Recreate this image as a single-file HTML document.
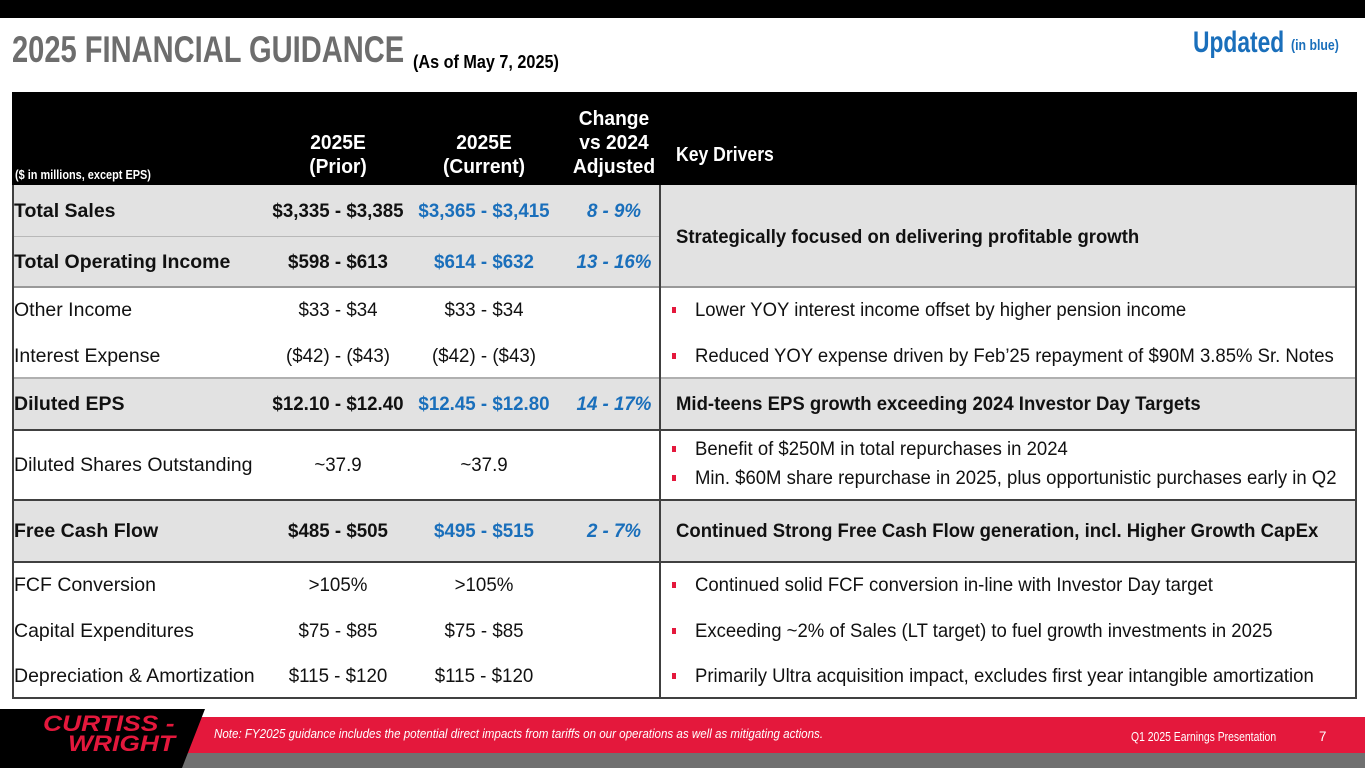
<!DOCTYPE html>
<html><head><meta charset="utf-8"><style>
*{margin:0;padding:0;box-sizing:border-box}
body{width:1365px;height:768px;position:relative;overflow:hidden;background:#fff;font-family:"Liberation Sans",Arial,sans-serif}
.a{position:absolute}
.t{position:absolute;white-space:nowrap;line-height:20px;font-size:19.5px;color:#111;transform-origin:left center;transform:scaleX(.95)}
.lb{transform:scaleX(1.0)}
.c{transform-origin:center center;transform:translateX(-50%) scaleX(.96)}
.b{font-weight:bold}
.bl{color:#1a6fbb}
.i{font-style:italic}
.w{color:#fff;font-weight:bold;text-align:center;line-height:24px;font-size:20px}
.bul{position:absolute;width:4px;height:6px;background:#e4183c}
.hl{position:absolute;left:12px;width:1345px;background:#404040}
</style></head><body>
<div class="a" style="left:0;top:0;width:1365px;height:18px;background:#000"></div>
<div class="t b" style="left:12px;top:30px;font-size:37px;line-height:40px;color:#6d6d6d;transform:scaleX(.786)">2025 FINANCIAL GUIDANCE</div>
<div class="t b" style="left:413px;top:52px;font-size:18px;color:#000;transform:scaleX(.9)">(As of May 7, 2025)</div>
<div class="t b bl" style="left:1193px;top:26px;font-size:30px;line-height:34px;transform:scaleX(.76)">Updated</div>
<div class="t b bl" style="left:1291px;top:36px;font-size:15px;transform:scaleX(.82)">(in blue)</div>

<div>
<div class="a" style="left:12px;top:92px;width:1345px;height:93px;background:#000"></div>
<div class="t b" style="left:15px;top:165px;font-size:13px;color:#fff;transform:scaleX(.84)">($ in millions, except EPS)</div>
<div class="t w c" style="left:338px;top:131px">2025E<br>(Prior)</div>
<div class="t w c" style="left:484px;top:131px">2025E<br>(Current)</div>
<div class="t w c" style="left:614px;top:107px">Change<br>vs 2024<br>Adjusted</div>
<div class="t w" style="left:676px;top:143px;transform:scaleX(.88)">Key Drivers</div>

<div class="a" style="left:12px;top:185px;width:1345px;height:102px;background:#e2e2e2"></div>
<div class="a" style="left:12px;top:378px;width:1345px;height:52px;background:#e2e2e2"></div>
<div class="a" style="left:12px;top:500px;width:1345px;height:62px;background:#e2e2e2"></div>
<div class="a" style="left:12px;top:236px;width:648px;height:1px;background:#b8b8b8"></div>
<div class="a" style="left:12px;top:377px;width:1345px;height:2px;background:#b0b0b0"></div>
<div class="hl" style="top:286px;height:2px;background:#999"></div>
<div class="hl" style="top:429px;height:2px"></div>
<div class="hl" style="top:499px;height:2px"></div>
<div class="hl" style="top:561px;height:2px"></div>
<div class="hl" style="top:697px;height:2px"></div>
<div class="a" style="left:12px;top:185px;width:2px;height:514px;background:#404040"></div>
<div class="a" style="left:1355px;top:185px;width:2px;height:514px;background:#404040"></div>
<div class="a" style="left:659px;top:185px;width:2px;height:514px;background:#404040"></div>

<div class="t b lb" style="left:14px;top:201px">Total Sales</div>
<div class="t b c" style="left:338px;top:201px">$3,335 - $3,385</div>
<div class="t b c bl" style="left:484px;top:201px">$3,365 - $3,415</div>
<div class="t b c bl i" style="left:614px;top:201px">8 - 9%</div>
<div class="t b" style="left:676px;top:227px">Strategically focused on delivering profitable growth</div>

<div class="t b lb" style="left:14px;top:252px">Total Operating Income</div>
<div class="t b c" style="left:338px;top:252px">$598 - $613</div>
<div class="t b c bl" style="left:484px;top:252px">$614 - $632</div>
<div class="t b c bl i" style="left:614px;top:252px">13 - 16%</div>

<div class="t lb" style="left:14px;top:300px">Other Income</div>
<div class="t c" style="left:338px;top:300px">$33 - $34</div>
<div class="t c" style="left:484px;top:300px">$33 - $34</div>
<div class="bul" style="left:672px;top:307px"></div>
<div class="t" style="left:695px;top:300px">Lower YOY interest income offset by higher pension income</div>

<div class="t lb" style="left:14px;top:346px">Interest Expense</div>
<div class="t c" style="left:338px;top:346px">($42) - ($43)</div>
<div class="t c" style="left:484px;top:346px">($42) - ($43)</div>
<div class="bul" style="left:672px;top:353px"></div>
<div class="t" style="left:695px;top:346px">Reduced YOY expense driven by Feb’25 repayment of $90M 3.85% Sr. Notes</div>

<div class="t b lb" style="left:14px;top:394px">Diluted EPS</div>
<div class="t b c" style="left:338px;top:394px">$12.10 - $12.40</div>
<div class="t b c bl" style="left:484px;top:394px">$12.45 - $12.80</div>
<div class="t b c bl i" style="left:614px;top:394px">14 - 17%</div>
<div class="t b" style="left:676px;top:394px">Mid-teens EPS growth exceeding 2024 Investor Day Targets</div>

<div class="t lb" style="left:14px;top:455px">Diluted Shares Outstanding</div>
<div class="t c" style="left:338px;top:455px">~37.9</div>
<div class="t c" style="left:484px;top:455px">~37.9</div>
<div class="bul" style="left:672px;top:446px"></div>
<div class="t" style="left:695px;top:439px">Benefit of $250M in total repurchases in 2024</div>
<div class="bul" style="left:672px;top:475px"></div>
<div class="t" style="left:695px;top:468px">Min. $60M share repurchase in 2025, plus opportunistic purchases early in Q2</div>

<div class="t b lb" style="left:14px;top:521px">Free Cash Flow</div>
<div class="t b c" style="left:338px;top:521px">$485 - $505</div>
<div class="t b c bl" style="left:484px;top:521px">$495 - $515</div>
<div class="t b c bl i" style="left:614px;top:521px">2 - 7%</div>
<div class="t b" style="left:676px;top:521px">Continued Strong Free Cash Flow generation, incl. Higher Growth CapEx</div>

<div class="t lb" style="left:14px;top:575px">FCF Conversion</div>
<div class="t c" style="left:338px;top:575px">&gt;105%</div>
<div class="t c" style="left:484px;top:575px">&gt;105%</div>
<div class="bul" style="left:672px;top:582px"></div>
<div class="t" style="left:695px;top:575px">Continued solid FCF conversion in-line with Investor Day target</div>

<div class="t lb" style="left:14px;top:621px">Capital Expenditures</div>
<div class="t c" style="left:338px;top:621px">$75 - $85</div>
<div class="t c" style="left:484px;top:621px">$75 - $85</div>
<div class="bul" style="left:672px;top:628px"></div>
<div class="t" style="left:695px;top:621px">Exceeding ~2% of Sales (LT target) to fuel growth investments in 2025</div>

<div class="t lb" style="left:14px;top:666px">Depreciation &amp; Amortization</div>
<div class="t c" style="left:338px;top:666px">$115 - $120</div>
<div class="t c" style="left:484px;top:666px">$115 - $120</div>
<div class="bul" style="left:672px;top:673px"></div>
<div class="t" style="left:695px;top:666px">Primarily Ultra acquisition impact, excludes first year intangible amortization</div>
</div>

<div class="a" style="left:0;top:717px;width:1365px;height:36px;background:#e4183c"></div>
<div class="a" style="left:0;top:753px;width:1365px;height:15px;background:#707070"></div>
<svg class="a" style="left:0;top:0" width="1365" height="768"><polygon points="0,709 205,709 182,768 0,768" fill="#000"/></svg>
<div class="t b i" style="left:43px;top:714px;font-size:22px;line-height:20px;color:#e4183c;transform:scaleX(1.2)">CURTISS -</div>
<div class="t b i" style="left:68px;top:734px;font-size:22px;line-height:20px;color:#e4183c;transform:scaleX(1.2)">WRIGHT</div>
<div class="t i" style="left:214px;top:724px;font-size:13px;color:#fff;transform:scaleX(.89)">Note: FY2025 guidance includes the potential direct impacts from tariffs on our operations as well as mitigating actions.</div>
<div class="t" style="left:1131px;top:727px;font-size:13px;color:#fff;transform:scaleX(.8)">Q1 2025 Earnings Presentation</div>
<div class="t" style="left:1319px;top:726px;font-size:14px;color:#fff">7</div>
</body></html>
